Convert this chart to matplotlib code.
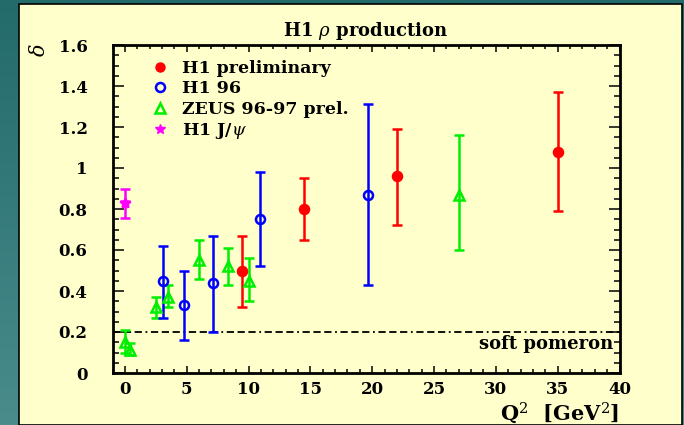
import matplotlib
matplotlib.use("Agg")
import matplotlib.pyplot as plt
import numpy as np
from matplotlib.lines import Line2D
from matplotlib.patches import Rectangle
from matplotlib.ticker import MultipleLocator

plt.rcParams["mathtext.fontset"] = "dejavuserif"

# Colours
TEAL_TOP = "#236a6b"
TEAL_BOT = "#4a8c8c"
PANEL = "#ffffcc"
RED = "#ff0000"
BLUE = "#0000ff"
GREEN = "#00ee00"
MAGENTA = "#ff00ff"

FONT = "DejaVu Serif"

# H1 preliminary
h1p_q2 = [9.45, 14.5, 22.0, 35.0]
h1p_d = [0.50, 0.80, 0.96, 1.08]
h1p_lo = [0.32, 0.65, 0.72, 0.79]
h1p_hi = [0.67, 0.95, 1.19, 1.37]

# H1 96
h196_q2 = [3.1, 4.8, 7.1, 10.9, 19.7]
h196_d = [0.45, 0.33, 0.44, 0.75, 0.87]
h196_lo = [0.27, 0.16, 0.20, 0.52, 0.43]
h196_hi = [0.62, 0.50, 0.67, 0.98, 1.31]

# ZEUS 96-97 prel.
zeus_q2 = [0.0, 0.45, 2.5, 3.45, 6.0, 8.35, 10.05, 27.0]
zeus_d = [0.15, 0.11, 0.32, 0.37, 0.55, 0.52, 0.45, 0.87]
zeus_lo = [0.10, 0.09, 0.27, 0.32, 0.46, 0.43, 0.35, 0.60]
zeus_hi = [0.21, 0.145, 0.37, 0.43, 0.65, 0.61, 0.56, 1.16]

# H1 J/psi
jpsi_q2 = [0.0]
jpsi_d = [0.83]
jpsi_lo = [0.755]
jpsi_hi = [0.90]

soft_pomeron = 0.2

fig = plt.figure(figsize=(6.84, 4.25), dpi=100)

# teal gradient backdrop with the cream panel on top
bg = fig.add_axes([0, 0, 1, 1], zorder=-2)
grad = np.linspace(0, 1, 256).reshape(-1, 1)
cmap = matplotlib.colors.LinearSegmentedColormap.from_list("teal", [TEAL_TOP, TEAL_BOT])
bg.imshow(grad, aspect="auto", cmap=cmap, extent=[0, 1, 0, 1], origin="upper")
bg.set_axis_off()
bg.add_patch(Rectangle((18.5 / 684, 0), (681.5 - 18.5) / 684, 1 - 3.5 / 425,
                       transform=bg.transAxes, facecolor=PANEL, edgecolor="black",
                       linewidth=1.2, zorder=2))

ax = fig.add_axes([112.5 / 684, 52 / 425, 507 / 684, 328 / 425])
ax.set_facecolor("none")


def draw(xs, ys, lo, hi, color, marker, ms, mfc):
    ys = np.array(ys)
    yerr = [ys - np.array(lo), np.array(hi) - ys]
    ax.errorbar(xs, ys, yerr=yerr, fmt=marker, color=color, ms=ms, mfc=mfc,
                mec=color, mew=1.8, elinewidth=1.8, capsize=3.8, capthick=1.6,
                zorder=3)


draw(zeus_q2, zeus_d, zeus_lo, zeus_hi, GREEN, "^", 6.5, "none")
draw(h196_q2, h196_d, h196_lo, h196_hi, BLUE, "o", 6.5, "none")
draw(h1p_q2, h1p_d, h1p_lo, h1p_hi, RED, "o", 6.5, RED)
draw(jpsi_q2, jpsi_d, jpsi_lo, jpsi_hi, MAGENTA, "*", 7.5, MAGENTA)

ax.axhline(soft_pomeron, color="black", lw=1.3,
           dashes=[4, 2, 4, 2, 4, 2, 1, 2], zorder=2)
ax.text(39.5, 0.142, "soft pomeron", ha="right", va="center",
        fontsize=13, fontweight="bold", family=FONT)

ax.set_xlim(-1, 40)
ax.set_ylim(0, 1.6)
ax.xaxis.set_major_locator(MultipleLocator(5))
ax.xaxis.set_minor_locator(MultipleLocator(1))
ax.yaxis.set_major_locator(MultipleLocator(0.2))
ax.yaxis.set_minor_locator(MultipleLocator(0.05))
ax.set_xticks(np.arange(0, 41, 5))
ax.set_xticklabels([str(v) for v in range(0, 41, 5)])
yt = np.round(np.arange(0, 1.61, 0.2), 1)
ax.set_yticks(yt)
ax.set_yticklabels(["0" if v == 0 else ("1" if v == 1 else f"{v:.1f}") for v in yt])

ax.tick_params(axis="both", which="both", direction="in", top=True, right=True,
               width=1.1, colors="black")
ax.tick_params(axis="y", which="major", length=8, pad=18)
ax.tick_params(axis="y", which="minor", length=4)
ax.tick_params(axis="x", which="major", length=5, pad=6)
ax.tick_params(axis="x", which="minor", length=3)
for lbl in ax.get_xticklabels() + ax.get_yticklabels():
    lbl.set_family(FONT)
    lbl.set_fontweight("bold")
    lbl.set_fontsize(12)
for sp in ax.spines.values():
    sp.set_linewidth(2)

ax.text(0.5, 1.042, "H1 $\\rho$ production", transform=ax.transAxes,
        ha="center", va="center", fontsize=13, fontweight="bold", family=FONT)
ax.text(-0.145, 0.985, "$\\delta$", transform=ax.transAxes, rotation=90,
        ha="center", va="center", fontsize=15, fontweight="bold", family=FONT)
ax.text(1.0, -0.122, "Q$^2$  [GeV$^2$]", transform=ax.transAxes,
        ha="right", va="center", fontsize=15, fontweight="bold", family=FONT)

handles = [
    Line2D([], [], ls="none", marker="o", ms=6.5, color=RED, mfc=RED),
    Line2D([], [], ls="none", marker="o", ms=6.5, color=BLUE, mfc="none", mew=1.8),
    Line2D([], [], ls="none", marker="^", ms=6.5, color=GREEN, mfc="none", mew=1.8),
    Line2D([], [], ls="none", marker="*", ms=7.5, color=MAGENTA, mfc=MAGENTA),
]
labels = ["H1 preliminary", "H1 96", "ZEUS 96-97 prel.", "H1 J/$\\psi$"]
ax.legend(handles, labels, loc="upper left", bbox_to_anchor=(0.045, 1.003),
          frameon=False, handlelength=1.0, handletextpad=0.8, labelspacing=0.2,
          prop={"family": FONT, "weight": "bold", "size": 12.5})

fig.savefig("out.png", dpi=100)
